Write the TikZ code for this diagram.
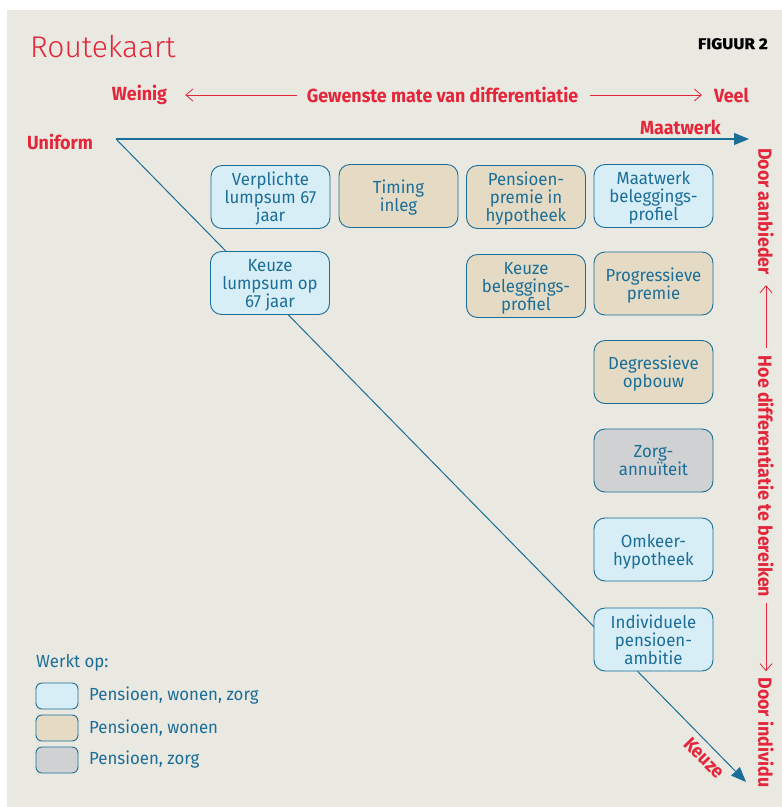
\documentclass[tikz,border=0pt]{standalone}
\usepackage{fontspec}
\setmainfont{Fira Sans}
\newfontfamily\condfont[FakeStretch=0.94]{Fira Sans}
\newfontfamily\boxfont[FakeStretch=0.96]{Fira Sans}
\newfontfamily\figfont[FakeStretch=1.1,FakeBold=1]{Fira Sans}
\newfontfamily\lightfont{Fira Sans Light}
\usetikzlibrary{arrows.meta}
\definecolor{bgc}{HTML}{E9E8E1}
\definecolor{redc}{HTML}{E3263A}
\definecolor{bluec}{HTML}{1B6E98}
\definecolor{lbluec}{HTML}{D7EEF7}
\definecolor{beigec}{HTML}{E5DBC4}
\definecolor{greyc}{HTML}{D0D1D3}
\begin{document}
\begin{tikzpicture}[x=1pt,y=-1pt,
  redlab/.style={text=redc, font=\condfont\bfseries\fontsize{19}{19}\selectfont, inner sep=0pt},
  redarr/.style={draw=redc, line width=0.8pt, -{Straight Barb[length=7pt,width=12pt]}},
  bluearr/.style={draw=bluec, line width=1.1pt, -{Triangle[length=15pt,width=12pt]}},
  box/.style={draw=bluec, line width=0.9pt, rounded corners=11pt, minimum width=119pt, minimum height=63pt, align=center, text=bluec, font=\boxfont\fontsize{17.5}{18}\selectfont, inner sep=0pt, text depth=0pt},
  lb/.style={box, fill=lbluec},
  bg/.style={box, fill=beigec},
  gr/.style={box, fill=greyc},
  legbox/.style={draw=bluec, line width=0.9pt, rounded corners=6pt, minimum width=42pt, minimum height=26pt, inner sep=0pt},
  legtxt/.style={anchor=west, text=bluec, font=\boxfont\fontsize{17.5}{18}\selectfont, inner sep=0pt}
]
\useasboundingbox (0,0) rectangle (782,807);
\fill[bgc] (7,10) rectangle (782,807);

% title
\node[anchor=base west, inner sep=0pt, text=redc, font=\lightfont\fontsize{30}{30}\selectfont] (title) at (30,57) {Routekaart};
\node[anchor=base east, inner sep=0pt, font=\figfont\bfseries\fontsize{15.5}{16}\selectfont] (fig) at (768,49) {FIGUUR 2};

% top differentiation line
\node[redlab] (weinig) at (139.5,95) {Weinig};
\node[redlab] (gew) at (442.5,95) {Gewenste mate van differentiatie};
\node[redlab] (veel) at (731.5,95) {Veel};
\draw[redarr, shorten <=10pt, shorten >=18pt] (gew.west) -- (weinig.east);
\draw[redarr, shorten <=12pt, shorten >=12pt] (gew.east) -- (veel.west);

% axes
\node[redlab] (uniform) at (60,142) {Uniform};
\node[redlab] (maatwerk) at (680.5,127) {Maatwerk};
\coordinate (o) at (116,139);
\coordinate (hend) at (749,139);
\coordinate (dend) at (746,782);
\draw[bluearr] (o) -- (hend);
\draw[bluearr, line width=1pt] (o) -- (dend);
\node[redlab, rotate=-45.6] (keuze) at (704,758) {Keuze};

% right vertical
\node[redlab, rotate=-90] (aanb) at (766,211.5) {Door aanbieder};
\node[redlab, rotate=-90] (hoe) at (766,476.5) {Hoe differentiatie te bereiken};
\node[redlab, rotate=-90] (indiv) at (766,732.5) {Door individu};
\draw[redarr, shorten <=8pt, shorten >=10pt] (hoe.west) -- (aanb.east);
\draw[redarr, shorten <=5pt, shorten >=6pt] (hoe.east) -- (indiv.west);

% boxes
\node[lb] (verpl) at (270.5,197) {Verplichte\\lumpsum 67\\jaar};
\node[bg] (timing) at (398.5,196) {Timing\\inleg};
\node[bg] (premhyp) at (526,197) {Pensioen-\\premie in\\hypotheek};
\node[lb] (maatbel) at (653.5,196) {Maatwerk\\beleggings-\\profiel};
\node[lb] (keuzel) at (270,283) {Keuze\\lumpsum op\\67 jaar};
\node[bg] (keuzeb) at (526,286) {Keuze\\beleggings-\\profiel};
\node[bg] (progr) at (653.5,283.5) {Progressieve\\premie};
\node[bg] (degr) at (653.5,372) {Degressieve\\opbouw};
\node[gr] (zorg) at (653.5,460.5) {Zorg-\\annuïteit};
\node[lb] (omk) at (653.5,549.5) {Omkeer-\\hypotheek};
\node[lb] (ipa) at (653.5,639.5) {Individuele\\pensioen-\\ambitie};

% legend
\node[legtxt] (werkt) at (36,663) {Werkt op:};
\node[legbox, fill=lbluec] (l1) at (57,696) {};
\node[legbox, fill=beigec] (l2) at (57,728) {};
\node[legbox, fill=greyc] (l3) at (57,760) {};
\node[legtxt] (t1) at (89,696) {Pensioen, wonen, zorg};
\node[legtxt] (t2) at (89,728) {Pensioen, wonen};
\node[legtxt] (t3) at (89,760) {Pensioen, zorg};
\end{tikzpicture}
\end{document}
